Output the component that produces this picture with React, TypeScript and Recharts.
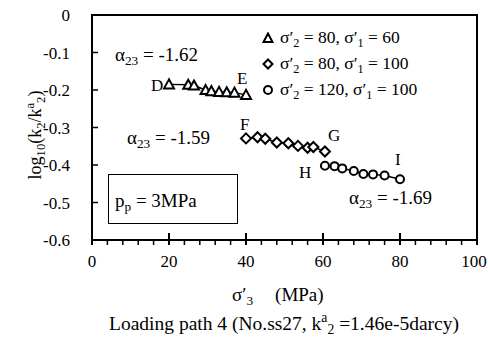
import { LineChart, Line, XAxis, YAxis } from 'recharts';

// sigma'2 = 80, sigma'1 = 60 (D - E)
const DE_X = [20, 25, 26.5, 29.5, 31, 33, 35, 37, 40];
const DE_Y = [-0.185, -0.186, -0.188, -0.2, -0.203, -0.205, -0.206, -0.207, -0.213];

// sigma'2 = 80, sigma'1 = 100 (F - G)
const FG_X = [40, 43, 45, 48, 51, 53.5, 56, 57.5, 60.5];
const FG_Y = [-0.329, -0.326, -0.33, -0.34, -0.342, -0.349, -0.354, -0.352, -0.364];

// sigma'2 = 120, sigma'1 = 100 (H - I)
const HI_X = [60.5, 63, 65, 68, 70.5, 73, 76, 80];
const HI_Y = [-0.402, -0.403, -0.409, -0.416, -0.424, -0.425, -0.428, -0.438];

const X_TICKS = [0, 4, 8, 12, 16, 20, 24, 28, 32, 36, 40, 44, 48, 52, 56, 60, 64, 68, 72, 76, 80, 84, 88, 92, 96, 100];
const X_LABELS = [0, 20, 40, 60, 80, 100];
const Y_TICKS = [0, -0.1, -0.2, -0.3, -0.4, -0.5, -0.6];

const toRows = (xs: number[], ys: number[]) => xs.map((x, i) => ({ x, y: ys[i] }));
const deData = toRows(DE_X, DE_Y);
const fgData = toRows(FG_X, FG_Y);
const hiData = toRows(HI_X, HI_Y);

const FONT = "'Liberation Serif', 'Times New Roman', serif";
const PLOT = { left: 92, top: 15, right: 477, bottom: 240 };

const triangle = (p: any) => (
  <polygon
    key={`t${p.index}`}
    points={`${p.cx},${p.cy - 5} ${p.cx - 5},${p.cy + 4} ${p.cx + 5},${p.cy + 4}`}
    fill="#fff"
    stroke="#000"
    strokeWidth={2}
  />
);
const diamond = (p: any) => (
  <polygon
    key={`d${p.index}`}
    points={`${p.cx},${p.cy - 5} ${p.cx + 5},${p.cy} ${p.cx},${p.cy + 5} ${p.cx - 5},${p.cy}`}
    fill="#fff"
    stroke="#000"
    strokeWidth={2}
  />
);
const circle = (p: any) => (
  <circle key={`c${p.index}`} cx={p.cx} cy={p.cy} r={4} fill="#fff" stroke="#000" strokeWidth={2} />
);

const XTick = (p: any) => {
  const v = p.payload.value;
  const major = X_LABELS.includes(v);
  return (
    <g>
      <line
        x1={p.x}
        x2={p.x}
        y1={major ? PLOT.bottom - 7 : PLOT.bottom}
        y2={PLOT.bottom + 5}
        stroke="#000"
        strokeWidth={major ? 2 : 1.5}
      />
      {major && (
        <text
          x={Math.min(p.x, 474)}
          y={PLOT.bottom + 27}
          textAnchor="middle"
          fontSize={17}
          fontFamily={FONT}
          fill="#000"
        >
          {v}
        </text>
      )}
    </g>
  );
};

const YTick = (p: any) => {
  const v = p.payload.value;
  return (
    <g>
      <line x1={PLOT.left} x2={PLOT.left + 6} y1={p.y} y2={p.y} stroke="#000" strokeWidth={1.5} />
      <text x={70} y={p.y + 6} textAnchor="end" fontSize={17} fontFamily={FONT} fill="#000">
        {v === 0 ? '0' : v.toFixed(1)}
      </text>
    </g>
  );
};

const abs = (left: number, top: number, size = 16): React.CSSProperties => ({
  position: 'absolute',
  left,
  top,
  fontSize: size,
  fontFamily: FONT,
  lineHeight: 1,
  whiteSpace: 'nowrap',
  color: '#000',
});

const sub: React.CSSProperties = { fontSize: '0.7em', verticalAlign: '-0.3em' };
const sup: React.CSSProperties = { fontSize: '0.7em', verticalAlign: '0.55em' };

const Sigma = ({ n }: { n: string }) => (
  <span>
    σ′<span style={sub}>{n}</span>
  </span>
);

const Alpha = ({ v }: { v: string }) => (
  <span>
    α<span style={sub}>23</span> = {v}
  </span>
);

const legendRows = [
  { marker: 'triangle', s2: '80', s1: '60' },
  { marker: 'diamond', s2: '80', s1: '100' },
  { marker: 'circle', s2: '120', s1: '100' },
];

const LegendMarker = ({ kind }: { kind: string }) => (
  <svg width={12} height={12} style={{ verticalAlign: '-1px', marginRight: 6 }}>
    {kind === 'triangle' && <polygon points="6,1.5 1.5,10 10.5,10" fill="#fff" stroke="#000" strokeWidth={2} />}
    {kind === 'diamond' && <polygon points="6,1.5 10.5,6 6,10.5 1.5,6" fill="#fff" stroke="#000" strokeWidth={2} />}
    {kind === 'circle' && <circle cx={6} cy={6} r={4} fill="#fff" stroke="#000" strokeWidth={2} />}
  </svg>
);

export default function App() {
  return (
    <div style={{ position: 'relative', width: 488, height: 351, background: '#fff' }}>
      <style>{'body{margin:0}'}</style>
      <LineChart width={488} height={351} margin={{ top: 15, right: 11, bottom: 81, left: 32 }}>
        <XAxis
          type="number"
          dataKey="x"
          domain={[0, 100]}
          ticks={X_TICKS}
          interval={0}
          height={30}
          axisLine={false}
          tickLine={false}
          tick={<XTick />}
        />
        <YAxis
          type="number"
          dataKey="y"
          domain={[-0.6, 0]}
          ticks={Y_TICKS}
          interval={0}
          width={60}
          axisLine={false}
          tickLine={false}
          tick={<YTick />}
        />
        <Line data={deData} dataKey="y" type="linear" stroke="#000" strokeWidth={1.5} dot={triangle} isAnimationActive={false} />
        <Line data={fgData} dataKey="y" type="linear" stroke="#000" strokeWidth={1.5} dot={diamond} isAnimationActive={false} />
        <Line data={hiData} dataKey="y" type="linear" stroke="#000" strokeWidth={1.5} dot={circle} isAnimationActive={false} />
      </LineChart>

      {/* plot frame */}
      <div
        style={{
          position: 'absolute',
          left: PLOT.left - 1,
          top: PLOT.top - 1,
          width: PLOT.right - PLOT.left + 2,
          height: PLOT.bottom - PLOT.top + 2,
          border: '2px solid #000',
          boxSizing: 'border-box',
          pointerEvents: 'none',
        }}
      />

      {/* legend */}
      <div style={abs(262, 29, 17.5)}>
        {legendRows.map((r) => (
          <div key={r.marker} style={{ height: 26 }}>
            <LegendMarker kind={r.marker} />
            <Sigma n="2" /> = {r.s2}, <Sigma n="1" /> = {r.s1}
          </div>
        ))}
      </div>

      {/* annotations */}
      <div style={abs(115, 45, 19)}><Alpha v="-1.62" /></div>
      <div style={abs(127, 128, 19)}><Alpha v="-1.59" /></div>
      <div style={abs(349, 188, 19)}><Alpha v="-1.69" /></div>
      <div style={abs(151, 77, 17)}>D</div>
      <div style={abs(237, 70, 17)}>E</div>
      <div style={abs(240, 116, 17)}>F</div>
      <div style={abs(328, 127, 17)}>G</div>
      <div style={abs(299, 164, 17)}>H</div>
      <div style={abs(395, 151, 17)}>I</div>

      {/* pore pressure box */}
      <div
        style={{
          ...abs(108, 174, 19),
          width: 130,
          height: 50,
          border: '1.5px solid #000',
          boxSizing: 'border-box',
          paddingLeft: 6,
          paddingTop: 16,
        }}
      >
        p<span style={sub}>p</span> = 3MPa
      </div>

      {/* y axis title */}
      <div
        style={{
          ...abs(36, 135, 18),
          transform: 'translate(-50%, -50%) rotate(-90deg)',
        }}
      >
        log<span style={sub}>10</span>(k<span style={sub}>2</span>/k<span style={sup}>a</span>
        <span style={sub}>2</span>)
      </div>

      {/* x axis title */}
      <div style={abs(232, 285, 19)}>
        <Sigma n="3" />
        <span style={{ marginLeft: 22 }}>(MPa)</span>
      </div>

      {/* caption */}
      <div style={{ ...abs(0, 311, 19.5), width: 568, textAlign: 'center' }}>
        Loading path 4 (No.ss27, k<span style={sup}>a</span><span style={sub}>2</span> =1.46e-5darcy)
      </div>
    </div>
  );
}
